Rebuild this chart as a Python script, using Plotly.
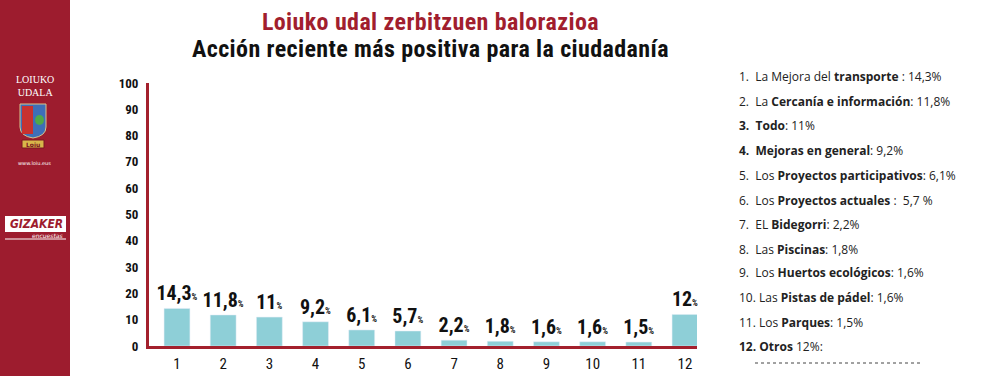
import plotly.graph_objects as go

categories = ["1", "2", "3", "4", "5", "6", "7", "8", "9", "10", "11", "12"]
values = [14.3, 11.8, 11, 9.2, 6.1, 5.7, 2.2, 1.8, 1.6, 1.6, 1.5, 12]
value_labels = ["14,3", "11,8", "11", "9,2", "6,1", "5,7", "2,2", "1,8", "1,6", "1,6", "1,5", "12"]
y_ticks = [0, 10, 20, 30, 40, 50, 60, 70, 80, 90, 100]
list_items = [
    "1.  La Mejora del <b>transporte</b> : 14,3%",
    "2.  La <b>Cercanía e información</b>: 11,8%",
    "<b>3.  Todo</b>: 11%",
    "<b>4.  Mejoras en general</b>: 9,2%",
    "5.  Los <b>Proyectos participativos</b>: 6,1%",
    "6.  Los <b>Proyectos actuales</b> :  5,7 %",
    "7.  EL <b>Bidegorri</b>: 2,2%",
    "8.  Las <b>Piscinas</b>: 1,8%",
    "9.  Los <b>Huertos ecológicos</b>: 1,6%",
    "10. Las <b>Pistas de pádel</b>: 1,6%",
    "11. Los <b>Parques</b>: 1,5%",
    "<b>12. Otros</b> 12%:",
]
title_1 = "Loiuko udal zerbitzuen balorazioa"
title_2 = "Acción reciente más positiva para la ciudadanía"

W, H = 983, 376
L, R, T, B = 149, 697, 83, 346
NARROW = "Liberation Sans Narrow, Roboto Condensed, DejaVu Sans Condensed, sans-serif"
RED = "#A11E2E"
AXRED = "#A3202D"


def px(x):
    return (x - L) / (R - L)


def py(y):
    return (B - y) / (B - T)


bar_text = [f"{t}<span style='font-size:9px'>%</span>" for t in value_labels]

fig = go.Figure(
    go.Bar(
        x=categories,
        y=values,
        marker_color="#8ECFD7",
        text=bar_text,
        textposition="outside",
        cliponaxis=False,
        constraintext="none",
        textfont=dict(family=NARROW, size=20, color="#111", weight="bold"),
    )
)

fig.update_layout(
    width=W,
    height=H,
    margin=dict(l=L, r=W - R, t=T, b=H - B, pad=0, autoexpand=False),
    paper_bgcolor="white",
    plot_bgcolor="white",
    showlegend=False,
    bargap=0.44,
    xaxis=dict(
        type="category",
        range=[-0.606, 11.26],
        showline=True,
        linecolor=AXRED,
        linewidth=3,
        ticks="",
        showgrid=False,
        tickfont=dict(family=NARROW, size=15, color="#111"),
        ticklabelstandoff=2,
        automargin=False,
    ),
    yaxis=dict(
        range=[0, 100],
        tickvals=y_ticks,
        showline=True,
        linecolor=AXRED,
        linewidth=3,
        ticks="",
        showgrid=False,
        zeroline=False,
        tickfont=dict(family=NARROW, size=13, color="#111", weight="bold"),
        ticklabelstandoff=5,
        automargin=False,
    ),
)

shapes = []
annotations = []

# Left sidebar
shapes.append(dict(type="rect", xref="paper", yref="paper", x0=px(0), x1=px(70), y0=py(376), y1=py(0),
                   fillcolor="#9D1C2E", line=dict(width=0), layer="below"))
# Shield
shapes.append(dict(type="path", xref="paper", yref="paper",
                   path=f"M {px(20)} {py(104)} L {px(46)} {py(104)} L {px(46)} {py(127)} Q {px(46)} {py(136)} {px(33)} {py(138)} Q {px(20)} {py(136)} {px(20)} {py(127)} Z",
                   fillcolor="#3E6FB8", line=dict(color="#D8C48A", width=1)))
shapes.append(dict(type="rect", xref="paper", yref="paper", x0=px(22), x1=px(33), y0=py(134), y1=py(106),
                   fillcolor="#C8322F", line=dict(width=0)))
shapes.append(dict(type="circle", xref="paper", yref="paper", x0=px(35), x1=px(44), y0=py(125), y1=py(115),
                   fillcolor="#4FA84A", line=dict(width=0)))
shapes.append(dict(type="rect", xref="paper", yref="paper", x0=px(22), x1=px(44), y0=py(148), y1=py(140),
                   fillcolor="#D8B64A", line=dict(color="#7A1620", width=1)))
# GIZAKER box
shapes.append(dict(type="rect", xref="paper", yref="paper", x0=px(5), x1=px(66), y0=py(232), y1=py(216),
                   fillcolor="white", line=dict(width=0)))
shapes.append(dict(type="line", xref="paper", yref="paper", x0=px(5), x1=px(66), y0=py(239), y1=py(239),
                   line=dict(color="white", width=1)))
# Dotted line under item 12
shapes.append(dict(type="line", xref="paper", yref="paper", x0=px(755), x1=px(920), y0=py(363), y1=py(363),
                   line=dict(color="#444", width=1, dash="dot")))

fig.update_layout(shapes=shapes)


def ann(text, x, y, size, color, family, xanchor="center", weight="normal"):
    annotations.append(dict(text=text, xref="paper", yref="paper", x=px(x), y=py(y), xanchor=xanchor,
                            yanchor="middle", showarrow=False,
                            font=dict(size=size, color=color, family=family, weight=weight)))


ann("LOIUKO<br>UDALA", 35, 86, 10, "white", "Liberation Serif, serif")
ann("Loiu", 33, 144, 6, "#7A1620", "DejaVu Sans", weight="bold")
ann("www.loiu.eus", 34, 163, 5, "white", "DejaVu Sans")
ann("<i>GIZAKER</i>", 65, 224, 12, "#9D1C2E", "DejaVu Sans Condensed, sans-serif", xanchor="right", weight="bold")
ann("<i>encuestas</i>", 65, 235, 6, "white", "DejaVu Sans", xanchor="right")

title_text = (f"<span style='font-size:24px;letter-spacing:0.4px;color:{RED}'>{title_1}</span><br>"
              f"<span style='font-size:24px;letter-spacing:0.4px'>{title_2}</span>")
ann(title_text, 430, 35, 21, "#111", NARROW, weight="bold")

list_y = [76.5, 101.5, 126, 150.5, 175.5, 200, 224.5, 249, 272.5, 297.5, 322, 346.5]
for t, y in zip(list_items, list_y):
    ann(t, 737, y, 12, "#222", "Open Sans, sans-serif", xanchor="left")

fig.update_layout(annotations=annotations)

fig.write_html("out.html", config={"displayModeBar": False},
               post_script="document.body.style.margin='0';document.body.style.overflow='hidden';")
